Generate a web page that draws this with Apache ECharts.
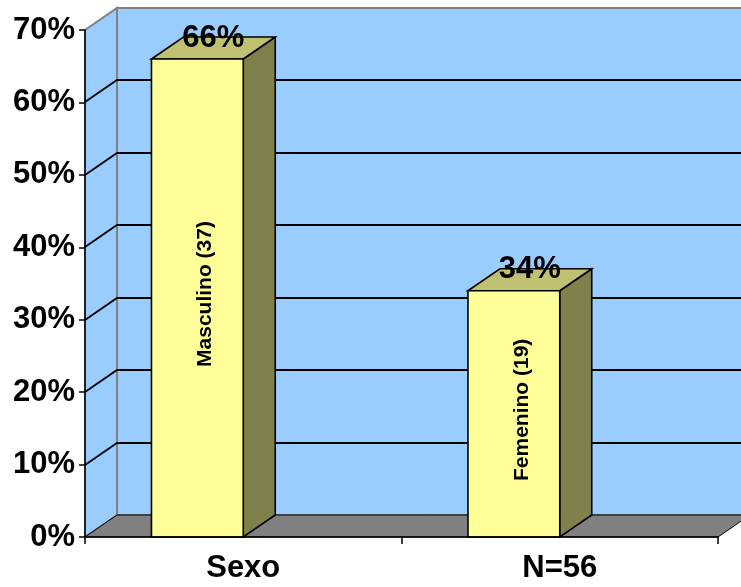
<!DOCTYPE html>
<html>
<head>
<meta charset="utf-8">
<script src="https://cdn.jsdelivr.net/npm/echarts@6/dist/echarts.min.js"></script>
<style>
html,body{margin:0;padding:0;background:#fff;}
#chart{width:741px;height:587px;}
</style>
</head>
<body>
<div id="chart"></div>
<script>
const categories = ['Sexo', 'N=56'];
const percentValues = [66, 34];
const innerLabels = ['Masculino (37)', 'Femenino (19)'];
const gridValues = [10, 20, 30, 40, 50, 60];

const DX = 32, DY = -22;
const FONT = '"Liberation Sans", Arial, sans-serif';

const chart = echarts.init(document.getElementById('chart'), null, {renderer: 'canvas'});

function renderBackground(params, api) {
  const cs = params.coordSys;
  const x0 = cs.x, y0 = cs.y, xr = cs.x + cs.width, yb = cs.y + cs.height;
  const ext = 60;
  const children = [];
  children.push({type: 'polygon', shape: {points: [[x0 + DX, y0 + DY], [xr + DX + ext, y0 + DY], [xr + DX + ext, yb + DY], [x0 + DX, yb + DY]]},
    style: {fill: '#99CCFF', stroke: '#808080', lineWidth: 2}});
  children.push({type: 'polygon', shape: {points: [[x0, y0], [x0 + DX, y0 + DY], [x0 + DX, yb + DY], [x0, yb]]},
    style: {fill: '#99CCFF', stroke: '#808080', lineWidth: 2}});
  gridValues.forEach(function (v) {
    const y = Math.round(api.coord([0, v])[1]);
    children.push({type: 'polyline', shape: {points: [[x0, y], [x0 + DX, y + DY], [xr + DX + ext, y + DY]]},
      style: {fill: null, stroke: '#000', lineWidth: 1.8}});
  });
  children.push({type: 'polygon', shape: {points: [[x0, yb], [x0 + DX, yb + DY], [xr + DX, yb + DY], [xr, yb]]},
    style: {fill: '#808080', stroke: '#000', lineWidth: 1}});
  return {type: 'group', children: children};
}

function renderBar(params, api) {
  const idx = api.value(0);
  const v = api.value(1);
  const top = api.coord([idx, v]);
  const base = api.coord([idx, 0]);
  const band = api.size([1, 0])[0];
  const w = band * 0.29;
  const xR = top[0], xL = top[0] - w;
  const yT = top[1], yB = base[1];
  const edge = {stroke: '#000', lineWidth: 1.6};
  return {type: 'group', children: [
    {type: 'polygon', shape: {points: [[xR, yT], [xR + DX, yT + DY], [xR + DX, yB + DY], [xR, yB]]},
      style: Object.assign({fill: '#80804C'}, edge)},
    {type: 'polygon', shape: {points: [[xL, yT], [xL + DX, yT + DY], [xR + DX, yT + DY], [xR, yT]]},
      style: Object.assign({fill: '#C0C072'}, edge)},
    {type: 'rect', shape: {x: xL, y: yT, width: w, height: yB - yT},
      style: Object.assign({fill: '#FFFF99'}, edge)},
    {type: 'text', x: (xL + xR) / 2 + 8, y: (yT + yB) / 2 - 4, rotation: Math.PI / 2,
      style: {text: innerLabels[idx], font: 'bold 21px ' + FONT, fill: '#000', align: 'center', verticalAlign: 'middle'}},
    {type: 'text', x: (xL + xR) / 2 + DX / 2, y: yT + DY / 2 - 10,
      style: {text: v + '%', font: 'bold 31px ' + FONT, fill: '#000', align: 'center', verticalAlign: 'middle'}}
  ]};
}

const option = {
  animation: false,
  grid: {left: 85, top: 30, width: 633, height: 507, containLabel: false},
  xAxis: {
    type: 'category', data: categories, boundaryGap: true,
    axisLine: {show: true, lineStyle: {color: '#000', width: 1.5}},
    axisTick: {show: true, inside: false, length: 7, alignWithLabel: false, lineStyle: {color: '#000', width: 1.5}},
    axisLabel: {color: '#000', fontWeight: 'bold', fontSize: 31, fontFamily: FONT, margin: 16},
    splitLine: {show: false}, z: 10
  },
  yAxis: {
    type: 'value', min: 0, max: 70, interval: 10,
    axisLine: {show: true, lineStyle: {color: '#000', width: 1.5}},
    axisTick: {show: true, inside: false, length: 6, lineStyle: {color: '#000', width: 1.5}},
    axisLabel: {color: '#000', fontWeight: 'bold', fontSize: 31, fontFamily: FONT, margin: 10, formatter: '{value}%'},
    splitLine: {show: false}, z: 10
  },
  series: [
    {type: 'custom', renderItem: renderBackground, data: [[0, 0]], clip: false, z: 1, silent: true},
    {type: 'custom', renderItem: renderBar, data: percentValues.map(function (v, i) { return [i, v]; }), clip: false, z: 5}
  ]
};
chart.setOption(option);
</script>
</body>
</html>
